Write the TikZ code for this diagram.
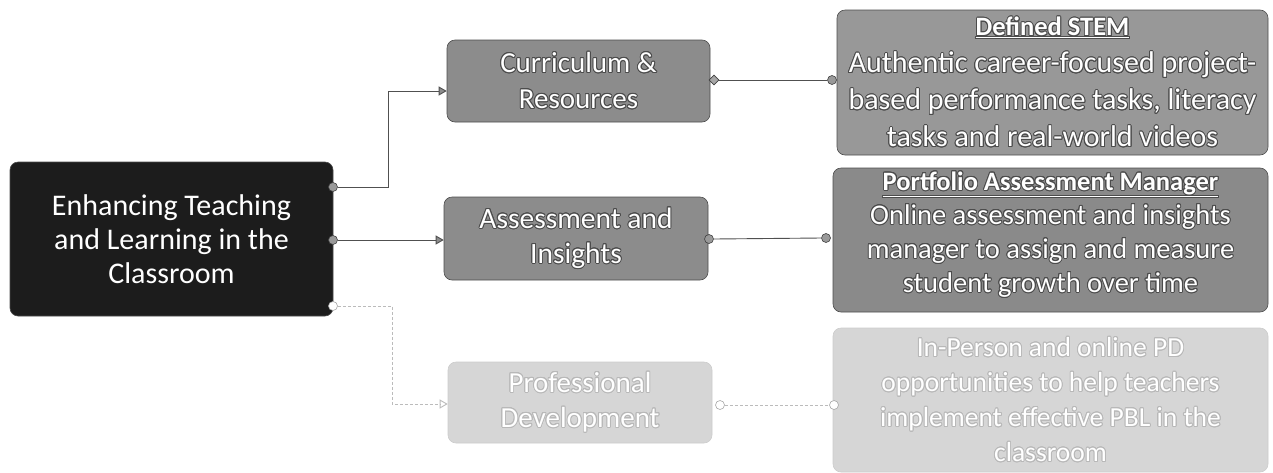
\documentclass[tikz,border=0pt]{standalone}
\usepackage{fontspec}
\setmainfont{Carlito}
\usepackage{contour}
\contourlength{0.9pt}
\contournumber{16}
\usetikzlibrary{arrows.meta,shapes.geometric}
\definecolor{maindark}{HTML}{1C1C1C}
\definecolor{midgray}{HTML}{8C8C8C}
\definecolor{detgray}{HTML}{989898}
\definecolor{portgray}{HTML}{8A8A8A}
\definecolor{lightbox}{HTML}{D6D6D6}
\definecolor{linedark}{HTML}{505050}
\definecolor{linelight}{HTML}{BBBBBB}
\newcommand{\olD}[1]{\contour{black!70}{#1}}
\newcommand{\olL}[1]{\contour{black!28}{#1}}
\newcommand{\ttl}[1]{{\fontsize{26.5}{34}\selectfont\bfseries\underline{#1}}}
\tikzset{
  box/.style={draw=black!70, line width=0.6pt, rounded corners=8pt, align=center, text=white, inner sep=0pt},
  lbox/.style={box, draw=black!20},
  conn/.style={draw=linedark, line width=0.9pt},
  lconn/.style={draw=linelight, line width=0.9pt, dash pattern=on 3pt off 2pt},
  dotm/.style={circle, fill=black!40, draw=black!75, line width=0.6pt, inner sep=0pt, minimum size=9pt},
  ldotm/.style={circle, fill=white, draw=black!35, line width=0.6pt, inner sep=0pt, minimum size=9pt},
  diam/.style={diamond, fill=black!35, draw=black!75, line width=0.6pt, inner sep=0pt, minimum size=10pt},
  arr/.style={-{Triangle[length=8pt, width=9pt, fill=black!45]}},
  larr/.style={-{Triangle[open, length=8pt, width=9pt]}},
}
\begin{document}
\begin{tikzpicture}[x=1pt,y=-1pt]
\useasboundingbox (0,0) rectangle (1273,472);
% boxes
\node[box, fill=maindark, minimum width=323pt, minimum height=154pt, font=\fontsize{30}{34}\selectfont] (main) at (171.5,239)
  {Enhancing Teaching\\and Learning in the\\Classroom};
\node[box, fill=midgray, minimum width=263pt, minimum height=82pt, font=\fontsize{29}{36}\selectfont] (cur) at (578.5,81)
  {\olD{Curriculum \&}\\\olD{Resources}};
\node[box, fill=midgray, minimum width=264pt, minimum height=83pt, font=\fontsize{29.5}{35}\selectfont] (ass) at (576,238.5)
  {\olD{Assessment and}\\\olD{Insights}};
\node[lbox, fill=lightbox, minimum width=264pt, minimum height=81pt, font=\fontsize{29}{35}\selectfont] (pd) at (580,402.5)
  {\olL{Professional}\\\olL{Development}};
\node[box, fill=detgray, minimum width=431pt, minimum height=145pt, font=\fontsize{30}{37}\selectfont] (stem) at (1052.5,82.5)
  {\olD{\ttl{Defined STEM}}\\\olD{Authentic career-focused project-}\\\olD{based performance tasks, literacy}\\\olD{tasks and real-world videos}};
\node[box, fill=portgray, minimum width=435pt, minimum height=144pt, font=\fontsize{28.5}{34}\selectfont] (port) at (1050.5,240)
  {\olD{\ttl{Portfolio Assessment Manager}}\\\olD{Online assessment and insights}\\\olD{manager to assign and measure}\\\olD{student growth over time}\\[-28pt]\strut};
\node[lbox, fill=lightbox, minimum width=435pt, minimum height=144pt, font=\fontsize{27.5}{35}\selectfont] (pdd) at (1050.5,400)
  {\olL{In-Person and online PD}\\\olL{opportunities to help teachers}\\\olL{implement effective PBL in the}\\\olL{classroom}};
% markers
\node[dotm] (m1) at (333,187) {};
\node[dotm] (m2) at (333,240) {};
\node[ldotm] (m3) at (333,306) {};
\node[diam] (c1) at (714,80) {};
\node[dotm] (s1) at (832,80) {};
\node[dotm] (a1) at (709,239) {};
\node[dotm] (p1) at (826,238) {};
\node[ldotm] (d1) at (720,405) {};
\node[ldotm] (e1) at (834,405) {};
\coordinate (k1) at (388,187);
\coordinate (k3) at (392,306);
% connectors
\draw[conn, arr] (m1.east) -- (k1) |- ([yshift=-10pt]cur.west);
\draw[conn, arr] (m2.east) -- (ass.west |- m2);
\draw[lconn, larr] (m3.east) -- (k3) |- ([yshift=-1.5pt]pd.west);
\draw[conn] (c1.east) -- (s1.west);
\draw[conn] (a1.east) -- (p1.west);
\draw[lconn] (d1.east) -- (e1.west);
\end{tikzpicture}
\end{document}
